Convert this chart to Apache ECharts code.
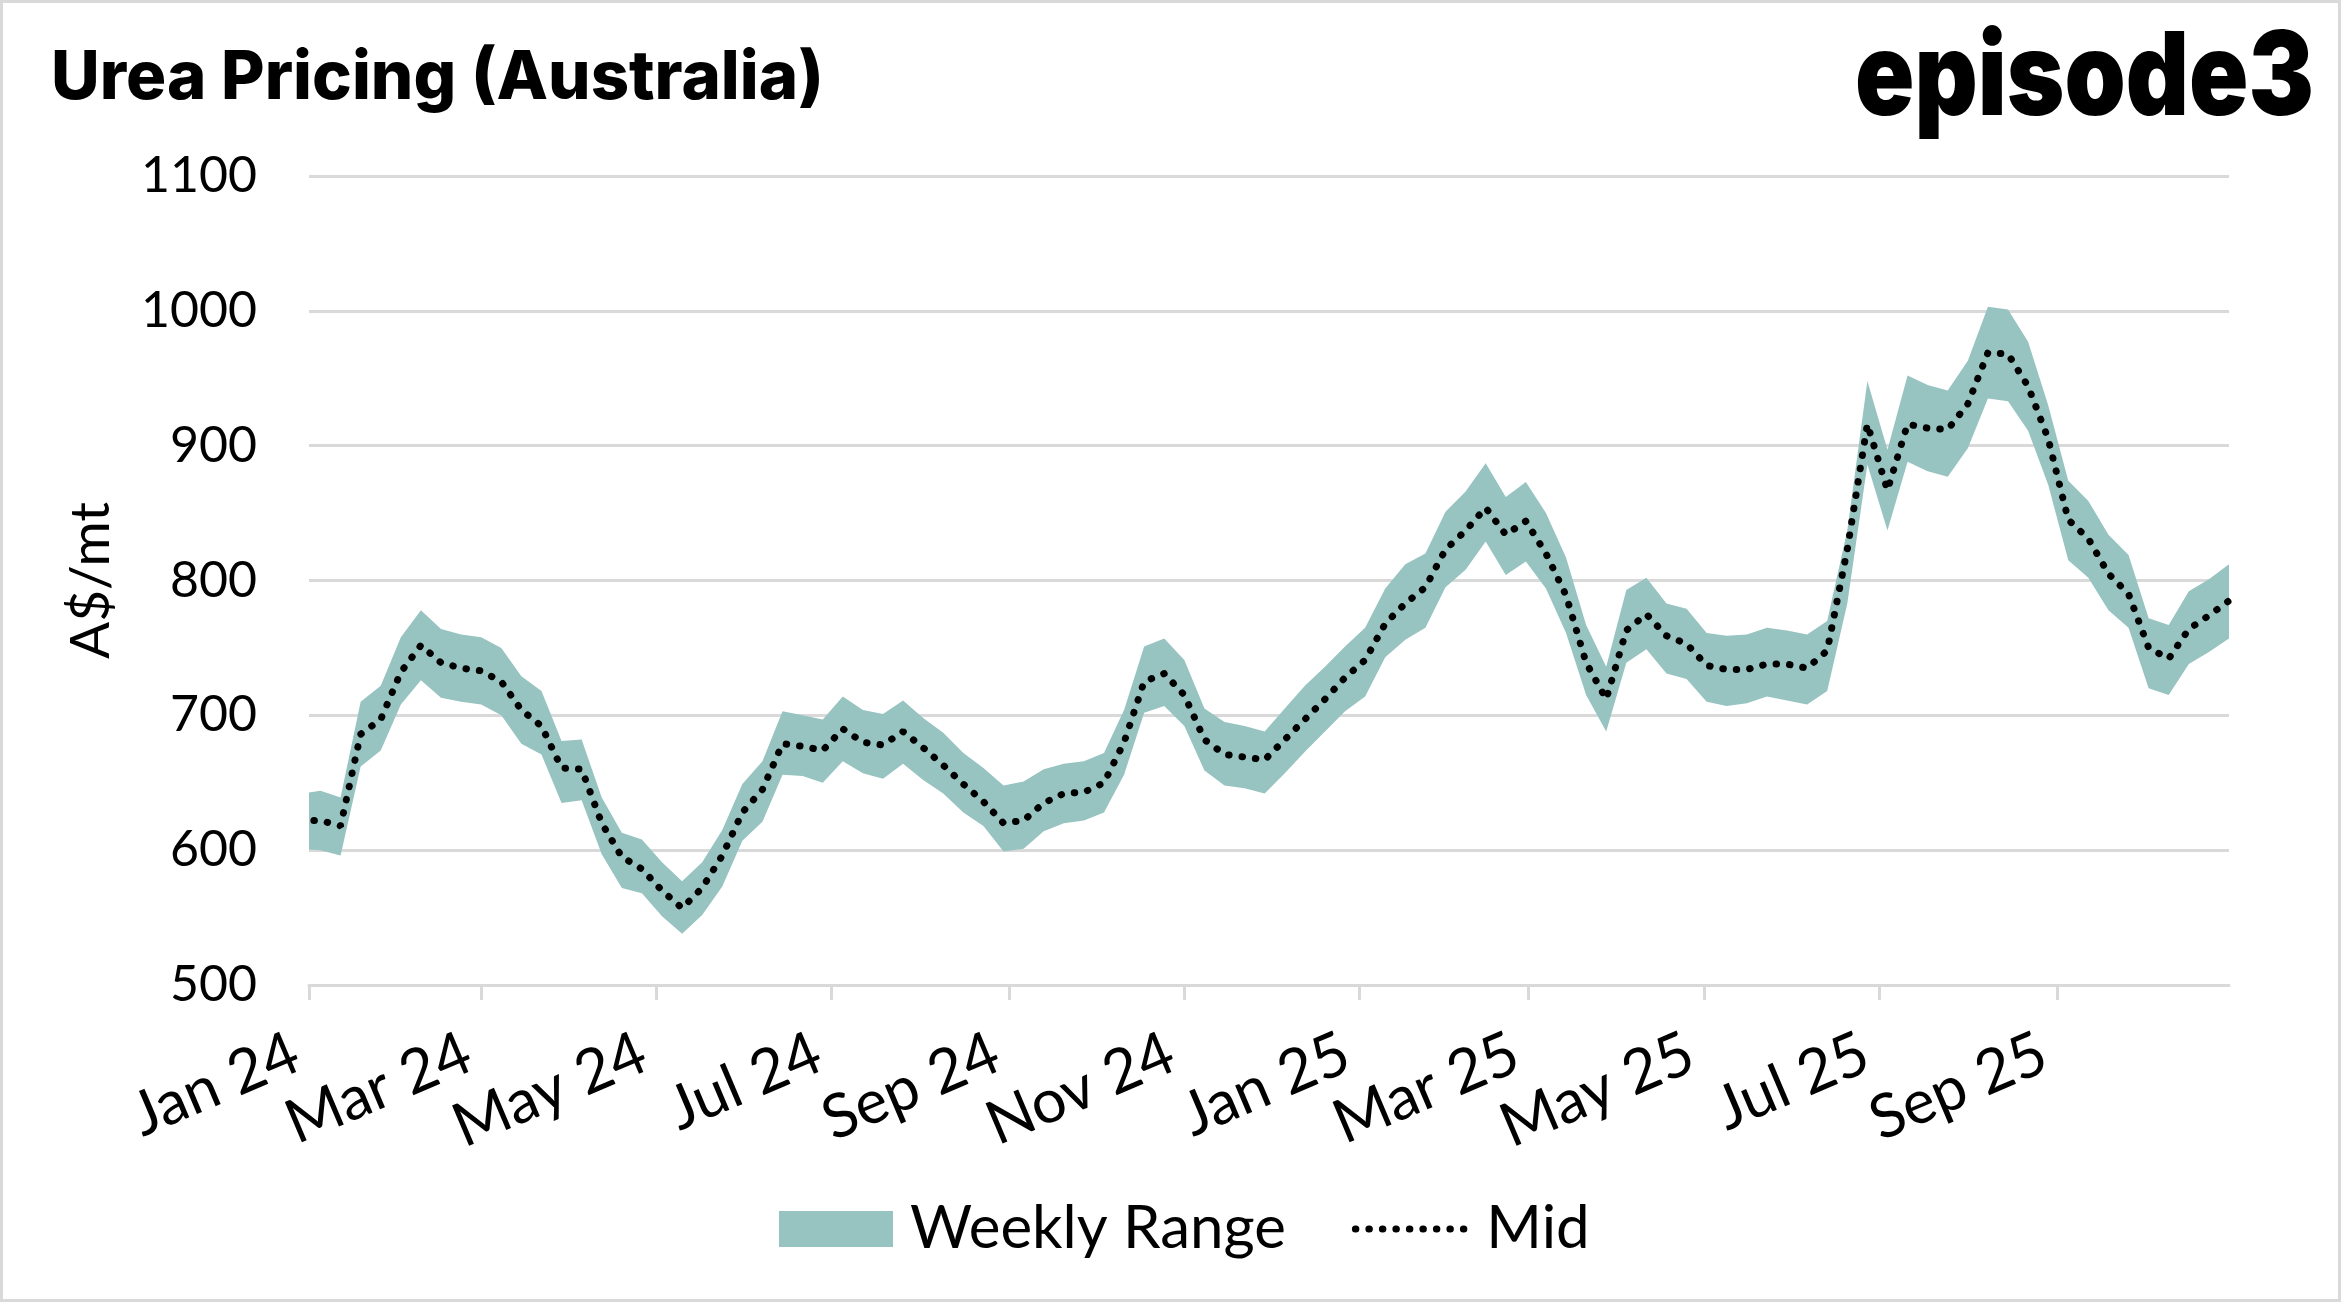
<!DOCTYPE html>
<html>
<head>
<meta charset="utf-8">
<script src="https://cdn.jsdelivr.net/npm/echarts@6/dist/echarts.min.js"></script>
<style>
html,body{margin:0;padding:0;background:#fff;}
#chart{width:2341px;height:1302px;}
</style>
</head>
<body>
<div id="chart"></div>
<script>
// ---- data (weekly, Fridays, first week 29 Dec 2023) ----
const firstWeek = [2023, 11, 29];
const rangeHigh = [642,644,639,710,722,758,778,764,760,758,750,729,718,681,682,639,613,608,591,577,591,
  615,649,666,703,700,697,714,704,701,711,698,687,672,661,648,651,660,664,666,672,
  704,751,757,741,705,695,692,688,705,722,736,751,765,794,812,820,851,866,887,
  862,873,850,817,767,736,793,802,783,779,761,759,760,765,763,760,770,837,948,
  897,952,945,941,963,1003,1001,977,930,874,859,834,819,772,767,792,801,812];
const rangeLow = [601,600,596,662,674,708,726,713,710,708,700,679,671,635,637,597,572,568,551,538,552,
  573,607,621,656,655,650,666,657,653,664,652,642,628,618,599,601,614,620,622,628,
  656,702,707,692,659,648,646,642,657,673,688,703,714,743,756,765,795,808,829,
  804,814,794,761,715,688,739,749,731,727,710,707,709,714,711,708,718,783,886,
  837,888,881,877,898,935,933,911,871,815,802,778,765,720,715,738,747,757];
const midPrice = [622,622,618,686,697,732,752,739,735,733,725,704,692,661,660,620,595,586,570,557,572,
  596,628,645,679,677,674,690,680,678,688,676,663,649,636,620,622,635,642,643,650,
  680,725,731,715,682,671,669,667,682,697,712,728,741,768,783,795,823,837,854,
  834,844,820,789,739,712,763,775,759,753,737,734,734,738,738,735,748,823,916,
  867,916,913,912,931,969,968,944,905,845,831,805,790,750,742,764,774,785];
const tickDates = ['2024-01-01','2024-03-01','2024-05-01','2024-07-01','2024-09-01','2024-11-01',
  '2025-01-01','2025-03-01','2025-05-01','2025-07-01','2025-09-01'];
const tickLabels = ['Jan 24','Mar 24','May 24','Jul 24','Sep 24','Nov 24',
  'Jan 25','Mar 25','May 25','Jul 25','Sep 25'];
const yTicks = [500,600,700,800,900,1000,1100];
const axisStart = '2024-01-01';
const axisEnd = '2025-10-31';

function ts(s){ const p = s.split('-').map(Number); return Date.UTC(p[0], p[1]-1, p[2]); }
const weekTimes = rangeHigh.map((_, k) => Date.UTC(firstWeek[0], firstWeek[1], firstWeek[2] + 7*k));
const tickTimes = tickDates.map(ts);

const BAND = '#97c3c1';
const FONT = 'Lato, "Noto Sans", sans-serif';
const chart = echarts.init(document.getElementById('chart'), null, {renderer:'canvas'});
chart.setOption({
  animation:false,
  backgroundColor:'#ffffff',
  title:{
    text:'Urea Pricing (Australia)', left:46, top:40,
    textStyle:{fontFamily:'Inter, Lato, sans-serif', fontWeight:800, fontSize:67, color:'#000'}
  },
  graphic:[
    {type:'rect', shape:{x:1.5,y:1.5,width:2338,height:1299}, style:{fill:null, stroke:'#d9d9d9', lineWidth:3}, silent:true},
    {type:'text', x:2314, y:80, scaleX:0.845, originX:0, originY:0,
     style:{text:'episode3', font:'900 116px Inter, Lato, sans-serif', fill:'#000', align:'right', verticalAlign:'middle'}, silent:true}
  ],
  grid:{left:309, right:112, top:176, bottom:317, containLabel:false},
  legend:{
    top:1194, left:774, itemWidth:114, itemHeight:36, itemGap:66,
    textStyle:{fontFamily:FONT, fontSize:60, color:'#000', padding:[0,0,0,12]},
    data:[
      {name:'Weekly Range', icon:'rect', itemStyle:{color:BAND}},
      {name:'Mid', itemStyle:{opacity:0}, lineStyle:{color:'#000', width:7, type:[0.5,13], cap:'round'}}
    ]
  },
  xAxis:{
    type:'value', min:ts(axisStart), max:ts(axisEnd), scale:true,
    splitLine:{show:false},
    axisLine:{lineStyle:{color:'#d9d9d9', width:3}},
    axisTick:{show:true, customValues:tickTimes, length:15, lineStyle:{color:'#d9d9d9', width:3}},
    axisLabel:{
      customValues:tickTimes, rotate:23, margin:60,
      fontFamily:FONT, fontSize:61, color:'#000', padding:[0,14,0,0],
      formatter:function(v){ const i = tickTimes.indexOf(v); return i >= 0 ? tickLabels[i] : ''; }
    }
  },
  yAxis:{
    type:'value', min:yTicks[0], max:yTicks[yTicks.length-1], interval:100,
    name:'A$/mt', nameLocation:'middle', nameRotate:90, nameGap:190,
    nameTextStyle:{fontFamily:FONT, fontSize:55, color:'#000'},
    axisLine:{show:false}, axisTick:{show:false},
    splitLine:{lineStyle:{color:'#d9d9d9', width:3}},
    axisLabel:{fontFamily:FONT, fontSize:50, color:'#000', margin:52,
      formatter:function(v){ return String(v); }}
  },
  series:[
    {name:'Weekly Range', type:'custom', clip:true, z:2,
     itemStyle:{color:BAND},
     encode:{x:0, y:[1,2]},
     data:weekTimes.map((t,i)=>[t, rangeLow[i], rangeHigh[i]]),
     renderItem:function(params, api){
       if (params.dataIndex !== 0) return null;
       const pts = [];
       for (let i = 0; i < weekTimes.length; i++) pts.push(api.coord([weekTimes[i], rangeHigh[i]]));
       for (let i = weekTimes.length - 1; i >= 0; i--) pts.push(api.coord([weekTimes[i], rangeLow[i]]));
       const cs = params.coordSys;
       return {type:'polygon', shape:{points:pts}, style:{fill:BAND},
               clipPath:{type:'rect', shape:{x:cs.x, y:cs.y, width:cs.width, height:cs.height}}};
     }},
    {name:'Mid', type:'line', symbol:'none', z:5,
     itemStyle:{color:'#000'},
     lineStyle:{color:'#000', width:7, type:[0.5,13], cap:'round'},
     data:weekTimes.map((t,i)=>[t, midPrice[i]])}
  ]
});
</script>
</body>
</html>
